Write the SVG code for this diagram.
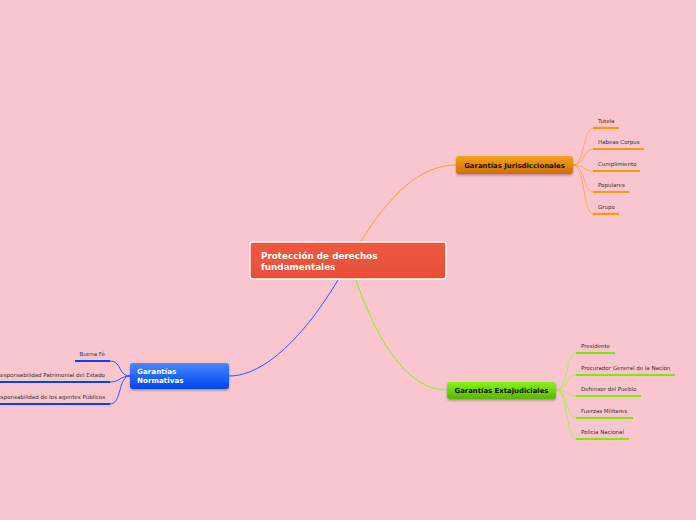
<svg xmlns="http://www.w3.org/2000/svg" width="696" height="520" viewBox="0 0 696 520">
<defs>
<linearGradient id="gOr" x1="0" y1="0" x2="0" y2="1"><stop offset="0" stop-color="#f7a21a"/><stop offset="1" stop-color="#cf6f00"/></linearGradient>
<linearGradient id="gGr" x1="0" y1="0" x2="0" y2="1"><stop offset="0" stop-color="#88f218"/><stop offset="1" stop-color="#55b800"/></linearGradient>
<linearGradient id="gBl" x1="0" y1="0" x2="0" y2="1"><stop offset="0" stop-color="#4a88ff"/><stop offset="1" stop-color="#0046f0"/></linearGradient>
<linearGradient id="gRd" x1="0" y1="0" x2="0" y2="1"><stop offset="0" stop-color="#ee5a40"/><stop offset="1" stop-color="#e4503a"/></linearGradient>
<filter id="sh" x="-10%" y="-20%" width="120%" height="160%"><feDropShadow dx="0" dy="1.5" stdDeviation="1" flood-color="#000" flood-opacity="0.3"/></filter>
</defs>
<style>
text{font-family:"DejaVu Sans",Verdana,sans-serif}
.leaf{font-size:5.5px;fill:#333}
.main{font-size:6.9px;font-weight:bold;fill:#111}
.w{fill:#fff;font-weight:bold}
.c{fill:none;stroke-width:1}
.o{stroke:#ffa030}
.og{stroke:#ff9900;stroke-width:2.2;fill:none}
.g{stroke:#aaee55}
.gg{stroke:#77ee00;stroke-width:2.2;fill:none}
.b{stroke:#2a55ff}
.bb{stroke:#0044ee;stroke-width:2.2;fill:none}
</style>
<rect width="696" height="520" fill="#f9c6d0"/>
<g id="connectors">
<path class="c o" d="M361,241 C390,195 420,165 456,165"/>
<path class="c" stroke="#8ef000" d="M356,280 C375,335 405,390 447,390"/>
<path class="c b" d="M338,280 C305,335 265,376 229,376"/>
<path class="c o" stroke-opacity="0.7" d="M573,165 C585,165 583,128 593,128"/>
<path class="c o" stroke-opacity="0.7" d="M573,165 C585,165 583,149 593,149"/>
<path class="c o" stroke-opacity="0.7" d="M573,165 C585,165 583,171 593,171"/>
<path class="c o" stroke-opacity="0.7" d="M573,165 C585,165 583,192 593,192"/>
<path class="c o" stroke-opacity="0.7" d="M573,165 C585,165 583,214 593,214"/>
<path class="c g" d="M556,390 C568,390 566,353 576,353"/>
<path class="c g" d="M556,390 C568,390 566,375 576,375"/>
<path class="c g" d="M556,390 C568,390 566,396 576,396"/>
<path class="c g" d="M556,390 C568,390 566,418 576,418"/>
<path class="c g" d="M556,390 C568,390 566,439 576,439"/>
<path class="c b" stroke="#5577ff" d="M130,376 C118,376 122,361 110,361"/>
<path class="c b" stroke="#5577ff" d="M130,376 C120,376 120,382 110,382"/>
<path class="c b" stroke="#5577ff" d="M130,376 C118,376 122,404 110,404"/>
</g>
<g id="central">
<rect x="250" y="242" width="196" height="37" rx="3" fill="url(#gRd)" stroke="#fff" stroke-width="1.3"/>
<text class="w" x="261" y="259" font-size="8.8">Protección de derechos</text>
<text class="w" x="261" y="270" font-size="8.8">fundamentales</text>
</g>
<g id="jurisdiccionales">
<rect x="456" y="156" width="117" height="18" rx="3" fill="url(#gOr)" filter="url(#sh)"/>
<text class="main" x="514.5" y="168" text-anchor="middle">Garantías Jurisdiccionales</text>
</g>
<g id="tutela"><text class="leaf" x="598" y="123">Tutela</text><line class="og" x1="593" y1="128" x2="619" y2="128"/></g>
<g id="habeas"><text class="leaf" x="598" y="144">Habeas Corpus</text><line class="og" x1="593" y1="149" x2="644" y2="149"/></g>
<g id="cumplimiento"><text class="leaf" x="598" y="166">Cumplimiento</text><line class="og" x1="593" y1="171" x2="640" y2="171"/></g>
<g id="populares"><text class="leaf" x="598" y="187">Populares</text><line class="og" x1="593" y1="192" x2="629" y2="192"/></g>
<g id="grupo"><text class="leaf" x="598" y="209">Grupo</text><line class="og" x1="593" y1="214" x2="619" y2="214"/></g>
<g id="extajudiciales">
<rect x="447" y="382" width="109" height="17" rx="3" fill="url(#gGr)" filter="url(#sh)"/>
<text class="main" x="501.5" y="393" text-anchor="middle">Garantías Extajudiciales</text>
</g>
<g id="presidente"><text class="leaf" x="581" y="348">Presidente</text><line class="gg" x1="576" y1="353" x2="615" y2="353"/></g>
<g id="procurador"><text class="leaf" x="581" y="370">Procurador General de la Nación</text><line class="gg" x1="576" y1="375" x2="675" y2="375"/></g>
<g id="defensor"><text class="leaf" x="581" y="391">Defensor del Pueblo</text><line class="gg" x1="576" y1="396" x2="641" y2="396"/></g>
<g id="fuerzas"><text class="leaf" x="581" y="413">Fuerzas Militares</text><line class="gg" x1="576" y1="418" x2="633" y2="418"/></g>
<g id="policia"><text class="leaf" x="581" y="434">Policía Nacional</text><line class="gg" x1="576" y1="439" x2="629" y2="439"/></g>
<g id="normativas">
<rect x="130" y="363" width="99" height="26" rx="3" fill="url(#gBl)" filter="url(#sh)"/>
<text class="w" x="137" y="374" font-size="7.2">Garantías</text>
<text class="w" x="137" y="383" font-size="7.2">Normativas</text>
</g>
<g id="buenafe"><text class="leaf" x="105" y="356" text-anchor="end">Buena Fé</text><line class="bb" x1="75" y1="361" x2="110" y2="361"/></g>
<g id="patrimonial"><text class="leaf" x="105" y="377" text-anchor="end">Responsabilidad Patrimonial del Estado</text><line class="bb" x1="0" y1="382" x2="110" y2="382"/></g>
<g id="agentes"><text class="leaf" x="105" y="399" text-anchor="end">Responsabilidad de los agentes Públicos</text><line class="bb" x1="0" y1="404" x2="110" y2="404"/></g>
</svg>
